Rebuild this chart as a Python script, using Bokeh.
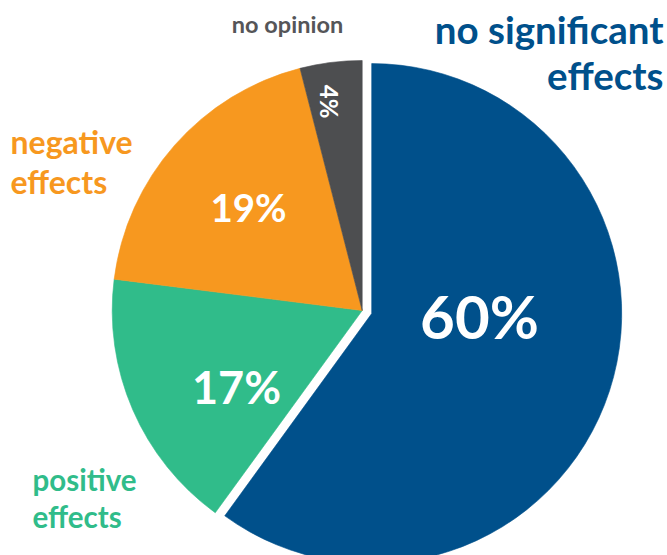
import math
from bokeh.plotting import figure
from bokeh.models import Range1d
from bokeh.core.properties import value
from bokeh.embed import file_html
from bokeh.resources import INLINE

# ---- data (clockwise from 12 o'clock) ----
categories = ["no significant effects", "positive effects", "negative effects", "no opinion"]
shares = [60, 17, 19, 4]
pct_labels = ["60%", "17%", "19%", "4%"]
colors = ["#00508B", "#30BC8A", "#F7981F", "#4D4E50"]

# ---- layout ----
W, H = 667, 555
CX, CY = 361.7, H - 310.0
R = 250.0
explode = [10.0, 0, 0, 0]
FONT = "Lato"
SHIFT = 0.36  # baseline correction (fraction of font size)

p = figure(width=W, height=H, output_backend="svg", toolbar_location=None,
           x_range=Range1d(0, W), y_range=Range1d(0, H), min_border=0,
           background_fill_color="white", border_fill_color="white")
p.axis.visible = False
p.grid.visible = False
p.outline_line_color = None

total = float(sum(shares))
cum = 0.0
xs, ys, starts, ends = [], [], [], []
for s, e in zip(shares, explode):
    a_start = math.pi / 2 - 2 * math.pi * (cum + s) / total
    a_end = math.pi / 2 - 2 * math.pi * cum / total
    mid = (a_start + a_end) / 2
    xs.append(CX + e * math.cos(mid))
    ys.append(CY + e * math.sin(mid))
    starts.append(a_start)
    ends.append(a_end)
    cum += s

p.wedge(x=xs, y=ys, radius=R, start_angle=starts, end_angle=ends,
        fill_color=colors, line_color=colors, line_width=0.6)

def txt(t, x, y_base, fs, color, align):
    p.text(x=[x], y=[H - (y_base - SHIFT * fs)], text=[t], text_font=value(FONT),
           text_font_style="bold", text_font_size=f"{fs}px", text_color=color,
           text_align=align, text_baseline="alphabetic")

# percentage labels inside slices (screen baseline centres)
pct_pos = [(479, 337, 60), (236, 403, 45), (248, 220, 38.5)]
for lab, (x, y, fs) in zip(pct_labels[:3], pct_pos):
    txt(lab, x, y, fs, "white", "center")
# rotated 4%
p.text(x=[329], y=[H - 101], text=[pct_labels[3]], text_font=value(FONT), text_font_style="bold",
       text_font_size="24px", text_color="white", text_align="center",
       text_baseline="middle", angle=-math.pi / 2)

# outside category labels
def lbl(lines, x, y0, step, fs, color, align):
    for i, t in enumerate(lines):
        txt(t, x, y0 + i * step, fs, color, align)

lbl(["no significant", "effects"], 663, 42, 46, 38.5, colors[0], "right")
lbl(["negative", "effects"], 10, 153, 40, 32, colors[2], "left")
lbl(["positive", "effects"], 32, 490, 37, 29.5, colors[1], "left")
lbl(["no opinion"], 287, 32, 0, 23.5, "#555558", "center")

open("out.html", "w").write(file_html(p, INLINE))
